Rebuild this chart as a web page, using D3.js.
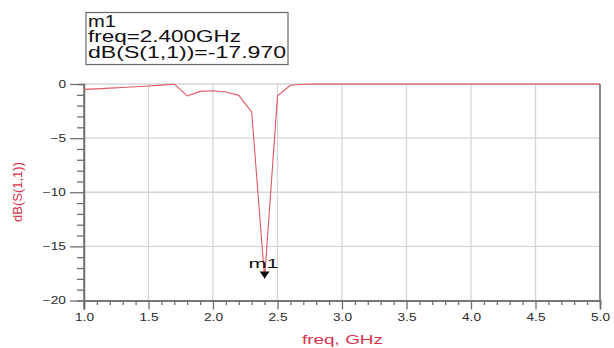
<!DOCTYPE html>
<html>
<head>
<meta charset="utf-8">
<script src="https://cdn.jsdelivr.net/npm/d3@7"></script>
<style>
  html, body { margin: 0; padding: 0; background: #fff; }
  svg { display: block; font-family: Arial, "Liberation Sans", sans-serif; }
</style>
</head>
<body>
<svg id="chart" width="614" height="348"></svg>
<script>
// Swept S11 response, 1.0–5.0 GHz in 0.1 GHz steps
const freqGHz = [
  1.0, 1.1, 1.2, 1.3, 1.4, 1.5, 1.6, 1.7, 1.8, 1.9,
  2.0, 2.1, 2.2, 2.3, 2.4, 2.5, 2.6, 2.7, 2.8, 2.9,
  3.0, 3.1, 3.2, 3.3, 3.4, 3.5, 3.6, 3.7, 3.8, 3.9,
  4.0, 4.1, 4.2, 4.3, 4.4, 4.5, 4.6, 4.7, 4.8, 4.9, 5.0
];
const s11dB = [
  -0.50, -0.45, -0.38, -0.32, -0.25, -0.18, -0.10, -0.02, -1.10, -0.68,
  -0.62, -0.74, -1.05, -2.60, -17.970, -1.10, -0.12, -0.03, -0.01, -0.01,
  -0.01, -0.01, -0.01, -0.01, -0.01, -0.01, -0.01, -0.01, -0.01, -0.01,
  -0.01, -0.01, -0.01, -0.01, -0.01, -0.01, -0.01, -0.01, -0.01, -0.01, -0.01
];
const xTicks = [1.0, 1.5, 2.0, 2.5, 3.0, 3.5, 4.0, 4.5, 5.0];
const yTicks = [0, -5, -10, -15, -20];

// Marker m1
const markerName = "m1";
const markerFreq = 2.4;
const markerValue = -17.970;

const svg = d3.select("#chart");
const plotLeft = 84, plotRight = 600, plotTop = 84, plotBottom = 300.5;

const x = d3.scaleLinear().domain([1, 5]).range([plotLeft, plotRight]);
const y = d3.scaleLinear().domain([-20, 0]).range([plotBottom, plotTop]);

const gridColor = "#d6d6d6";
const axisColor = "#707070";
const traceColor = "#dc5a63";
const titleColor = "#d8324c";
const textColor = "#2a2a2a";
const stretch = 1.37;

// Grid
svg.append("g").selectAll("line")
  .data(xTicks.filter(d => d > 1 && d < 5))
  .join("line")
  .attr("x1", d => x(d)).attr("x2", d => x(d))
  .attr("y1", plotTop).attr("y2", plotBottom)
  .attr("stroke", gridColor).attr("stroke-width", 1.3);
svg.append("g").selectAll("line")
  .data(yTicks.filter(d => d > -20))
  .join("line")
  .attr("x1", plotLeft).attr("x2", plotRight)
  .attr("y1", d => y(d)).attr("y2", d => y(d))
  .attr("stroke", gridColor).attr("stroke-width", 1.3);

// Right border
svg.append("line")
  .attr("x1", plotRight).attr("x2", plotRight).attr("y1", plotTop).attr("y2", plotBottom)
  .attr("stroke", "#8a8a8a").attr("stroke-width", 2);

// Minor ticks
const xMinor = d3.range(10, 51).map(d => d / 10).filter(d => !xTicks.some(t => Math.abs(t - d) < 1e-9));
const yMinor = d3.range(0, 21).map(d => -d).filter(d => d % 5 !== 0);

const xAxisMinor = svg.append("g").attr("transform", `translate(0,${plotBottom})`)
  .call(d3.axisBottom(x).tickValues(xMinor).tickSize(4.5).tickFormat(""));
const yAxisMinor = svg.append("g").attr("transform", `translate(${plotLeft},0)`)
  .call(d3.axisLeft(y).tickValues(yMinor).tickSize(7).tickFormat(""));

const xAxis = svg.append("g").attr("transform", `translate(0,${plotBottom})`)
  .call(d3.axisBottom(x).tickValues(xTicks).tickSize(9).tickPadding(4).tickFormat(d3.format(".1f")));
const yAxis = svg.append("g").attr("transform", `translate(${plotLeft},0)`)
  .call(d3.axisLeft(y).tickValues(yTicks).tickSize(14).tickPadding(3).tickFormat(d3.format("d")));

[xAxisMinor, yAxisMinor, xAxis, yAxis].forEach(g => {
  g.select(".domain").attr("stroke", axisColor).attr("stroke-width", 1.5);
  g.selectAll(".tick line").attr("stroke", axisColor).attr("stroke-width", 1.3);
});
yAxis.select(".domain").attr("d", `M0,${plotTop}V${plotBottom + 9}`);

xAxis.selectAll(".tick text")
  .attr("font-size", 10).attr("fill", textColor)
  .attr("font-family", "Arial, 'Liberation Sans', sans-serif")
  .attr("transform", `scale(${stretch},1)`);
yAxis.selectAll(".tick text")
  .attr("font-size", 10).attr("fill", textColor)
  .attr("font-family", "Arial, 'Liberation Sans', sans-serif")
  .attr("x", 0)
  .attr("transform", `translate(-18,0) scale(${stretch},1)`);

// Trace
const line = d3.line().x((d, i) => x(freqGHz[i])).y(d => y(d));
svg.append("path")
  .datum(s11dB)
  .attr("d", line)
  .attr("fill", "none")
  .attr("stroke", traceColor)
  .attr("stroke-width", 1.1)
  .attr("stroke-linejoin", "round");

// Axis titles
svg.append("text")
  .attr("x", 302).attr("y", 343.5)
  .attr("font-size", 12).attr("fill", titleColor)
  .attr("textLength", 81).attr("lengthAdjust", "spacingAndGlyphs")
  .text("freq, GHz");
svg.append("text")
  .attr("transform", "translate(22,222) rotate(-90)")
  .attr("font-size", 12).attr("fill", titleColor)
  .attr("textLength", 60).attr("lengthAdjust", "spacingAndGlyphs")
  .text("dB(S(1,1))");

// Marker arrow and name on the trace
const mx = x(markerFreq), my = y(markerValue);
svg.append("path")
  .attr("d", `M${mx - 5},${my - 7}L${mx + 5},${my - 7}L${mx},${my}Z`)
  .attr("fill", "#111");
svg.append("text")
  .attr("x", mx - 16).attr("y", my - 11)
  .attr("font-size", 13).attr("fill", "#111")
  .attr("textLength", 30).attr("lengthAdjust", "spacingAndGlyphs")
  .text(markerName);

// Marker readout box
svg.append("rect")
  .attr("x", 86).attr("y", 12.5).attr("width", 202).attr("height", 52)
  .attr("fill", "#fff").attr("stroke", "#666").attr("stroke-width", 1.2);
const readout = [
  { t: markerName, w: 28, yb: 26.5 },
  { t: `freq=${markerFreq.toFixed(3)}GHz`, w: 153, yb: 42 },
  { t: `dB(S(1,1))=${markerValue.toFixed(3)}`, w: 198, yb: 58 }
];
svg.append("g").selectAll("text")
  .data(readout)
  .join("text")
  .attr("x", 88).attr("y", d => d.yb)
  .attr("font-size", 16).attr("fill", "#111")
  .attr("textLength", d => d.w).attr("lengthAdjust", "spacingAndGlyphs")
  .text(d => d.t);
</script>
</body>
</html>
